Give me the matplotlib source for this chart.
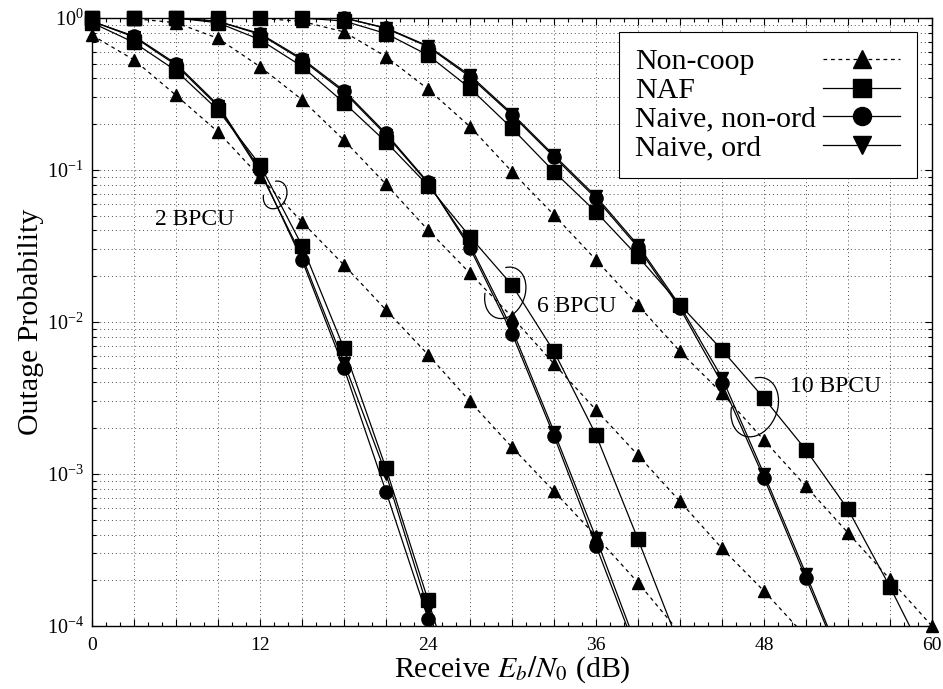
import matplotlib
matplotlib.use("Agg")
import matplotlib.pyplot as plt
import numpy as np
from matplotlib.lines import Line2D
from matplotlib.patches import Arc
from matplotlib.ticker import FixedLocator, MultipleLocator, LogLocator, FuncFormatter, NullFormatter

plt.rcParams['font.family'] = ['Liberation Serif', 'DejaVu Serif']
plt.rcParams['mathtext.fontset'] = 'stix'

# ---- data (Eb/N0 in dB, outage probability) ----
# 2 BPCU
x_nc2 = [0, 3, 6, 9, 12, 15, 18, 21, 24, 27, 30, 33, 36, 39, 42]
nc2 = [0.77, 0.53, 0.31, 0.178, 0.090, 0.0455, 0.0237, 0.012, 6.1e-3, 3.0e-3,
       1.5e-3, 7.7e-4, 3.9e-4, 1.93e-4, 9e-5]
x_co2 = [0, 3, 6, 9, 12, 15, 18, 21, 24, 27]
naf2 = [0.93, 0.69, 0.45, 0.248, 0.108, 0.0318, 6.7e-3, 1.09e-3, 1.48e-4, 2e-5]
nonord2 = [0.95, 0.76, 0.50, 0.268, 0.100, 0.0256, 4.96e-3, 7.66e-4, 1.12e-4, 1.6e-5]
ord2 = [0.95, 0.75, 0.49, 0.262, 0.097, 0.027, 5.4e-3, 1.0e-3, 1.3e-4, 1.8e-5]

# 6 BPCU
x_nc6 = [0, 3, 6, 9, 12, 15, 18, 21, 24, 27, 30, 33, 36, 39, 42, 45, 48, 51]
nc6 = [1.0, 0.99, 0.93, 0.735, 0.478, 0.29, 0.157, 0.0805, 0.0403, 0.0209, 0.0108,
       5.3e-3, 2.64e-3, 1.33e-3, 6.6e-4, 3.24e-4, 1.7e-4, 8.5e-5]
x_naf6 = [0, 3, 6, 9, 12, 15, 18, 21, 24, 27, 30, 33, 36, 39, 42]
naf6 = [1.0, 1.0, 1.0, 0.93, 0.72, 0.48, 0.277, 0.153, 0.079, 0.0364, 0.0175,
        6.4e-3, 1.81e-3, 3.72e-4, 7.3e-5]
x_nv6 = [0, 3, 6, 9, 12, 15, 18, 21, 24, 27, 30, 33, 36, 39]
nonord6 = [1.0, 1.0, 1.0, 0.95, 0.79, 0.54, 0.333, 0.174, 0.083, 0.0306, 8.4e-3,
           1.78e-3, 3.38e-4, 6.4e-5]
ord6 = [1.0, 1.0, 1.0, 0.95, 0.78, 0.53, 0.325, 0.17, 0.082, 0.032, 9.0e-3,
        1.9e-3, 3.8e-4, 7e-5]

# 10 BPCU
x_nc10 = [0, 3, 6, 9, 12, 15, 18, 21, 24, 27, 30, 33, 36, 39, 42, 45, 48, 51, 54, 57, 60]
nc10 = [1.0, 1.0, 1.0, 1.0, 0.995, 0.95, 0.81, 0.557, 0.34, 0.193, 0.0975, 0.0506,
        0.0256, 0.0129, 6.4e-3, 3.4e-3, 1.67e-3, 8.3e-4, 4.1e-4, 2.03e-4, 1.0e-4]
x_naf10 = [0, 3, 6, 9, 12, 15, 18, 21, 24, 27, 30, 33, 36, 39, 42, 45, 48, 51, 54, 57, 60]
naf10 = [1.0, 1.0, 1.0, 1.0, 1.0, 1.0, 0.955, 0.79, 0.57, 0.345, 0.188, 0.0975,
         0.053, 0.027, 0.013, 6.55e-3, 3.15e-3, 1.44e-3, 5.86e-4, 1.81e-4, 5.1e-5]
x_nv10 = [0, 3, 6, 9, 12, 15, 18, 21, 24, 27, 30, 33, 36, 39, 42, 45, 48, 51, 54]
nonord10 = [1.0, 1.0, 1.0, 1.0, 1.0, 1.0, 1.0, 0.855, 0.647, 0.41, 0.23, 0.122,
            0.065, 0.031, 0.0123, 3.95e-3, 9.4e-4, 2.06e-4, 4.5e-5]
ord10 = [1.0, 1.0, 1.0, 1.0, 1.0, 1.0, 1.0, 0.86, 0.655, 0.42, 0.235, 0.125,
         0.067, 0.032, 0.0128, 4.3e-3, 1.0e-3, 2.2e-4, 4.7e-5]

labels = ['Non-coop', 'NAF', 'Naive, non-ord', 'Naive, ord']

fig = plt.figure(figsize=(9.43, 6.89), dpi=100)
ax = fig.add_axes([0.0976, 0.0914, 0.8907, 0.8825])

YMIN, YMAX = 1e-4, 1.0
LW = 0.9


def curve(x, y, marker, ls, ms):
    # line is clipped to the axes, markers are drawn only inside the range but never cut
    x = np.asarray(x, float)
    y = np.asarray(y, float)
    ax.plot(x, y, color='black', linestyle=ls, lw=LW, zorder=3)
    keep = (y >= YMIN * 0.999) & (y <= YMAX * 1.001)
    ax.plot(x[keep], y[keep], linestyle='none', marker=marker, color='black',
            markersize=ms, clip_on=False, zorder=4)


DASH = (0, (3, 3))
for xn, yn in [(x_nc2, nc2), (x_nc6, nc6), (x_nc10, nc10)]:
    curve(xn, yn, '^', DASH, 9)

curve(x_co2, naf2, 's', '-', 9.5)
curve(x_co2, nonord2, 'o', '-', 9.5)
curve(x_co2, ord2, 'v', '-', 9)
curve(x_naf6, naf6, 's', '-', 9.5)
curve(x_nv6, nonord6, 'o', '-', 9.5)
curve(x_nv6, ord6, 'v', '-', 9)
curve(x_naf10, naf10, 's', '-', 9.5)
curve(x_nv10, nonord10, 'o', '-', 9.5)
curve(x_nv10, ord10, 'v', '-', 9)

ax.set_yscale('log')
ax.set_xlim(0, 60)
ax.set_ylim(YMIN, YMAX)

ax.xaxis.set_major_locator(FixedLocator(np.arange(0, 61, 3)))
ax.xaxis.set_major_formatter(FuncFormatter(lambda v, p: f"{int(round(v))}" if int(round(v)) % 12 == 0 else ""))
ax.xaxis.set_minor_locator(MultipleLocator(1))
ax.yaxis.set_major_locator(LogLocator(base=10, numticks=10))
ax.yaxis.set_minor_locator(LogLocator(base=10, subs=np.arange(2, 10), numticks=20))
ax.yaxis.set_minor_formatter(NullFormatter())

ax.tick_params(which='both', direction='in', top=True, right=True, width=0.8)
ax.tick_params(axis='x', which='major', labelsize=14, pad=8)
ax.tick_params(axis='y', which='major', labelsize=14.5, pad=6)
ax.tick_params(which='major', length=5)
ax.tick_params(which='minor', length=3)

ax.grid(True, which='major', axis='x', linestyle=(0, (1, 3)), color='0.3', lw=0.7)
ax.grid(True, which='both', axis='y', linestyle=(0, (1, 3)), color='0.3', lw=0.7)
for s in ax.spines.values():
    s.set_linewidth(1.0)

ax.set_xlabel('Receive $E_b/N_0$ (dB)', fontsize=21.5, labelpad=0)
ax.set_ylabel('Outage Probability', fontsize=21.5, labelpad=2)

# group annotations
ax.text(7.36, 0.047, '2 BPCU', fontsize=17, ha='center', va='center')
ax.text(34.64, 0.01256, '6 BPCU', fontsize=17, ha='center', va='center')
ax.text(53.14, 3.79e-3, '10 BPCU', fontsize=17, ha='center', va='center')
for cx, cy, w, h in [(0.218, 0.709, 0.0274, 0.046), (0.492, 0.548, 0.0476, 0.0855),
                     (0.789, 0.360, 0.0548, 0.0987)]:
    ax.add_patch(Arc((cx, cy), w, h, angle=-10, theta1=190, theta2=460,
                     transform=ax.transAxes, color='black', lw=LW, zorder=5))

handles = [
    Line2D([], [], color='black', linestyle=DASH, lw=LW, marker='^', markersize=13),
    Line2D([], [], color='black', linestyle='-', lw=LW, marker='s', markersize=13),
    Line2D([], [], color='black', linestyle='-', lw=LW, marker='o', markersize=13),
    Line2D([], [], color='black', linestyle='-', lw=LW, marker='v', markersize=13),
]
leg = ax.legend(handles, labels, loc='upper right', bbox_to_anchor=(0.982, 0.977),
                borderaxespad=0, fontsize=21.5, markerfirst=False, handlelength=2.6,
                fancybox=False, framealpha=1, edgecolor='black', labelspacing=0.06,
                handletextpad=0.23, borderpad=0.55)
leg.get_frame().set_linewidth(0.8)
leg.set_zorder(10)

# left-align the legend texts (handles stay on the right)
fig.canvas.draw()
renderer = fig.canvas.get_renderer()
widths = [t.get_window_extent(renderer).width for t in leg.get_texts()]
rows = leg._legend_handle_box.get_children()[0].get_children()
for row, w in zip(rows, widths):
    row.sep += (max(widths) - w) * 72.0 / fig.dpi

fig.savefig('out.png', dpi=100)
